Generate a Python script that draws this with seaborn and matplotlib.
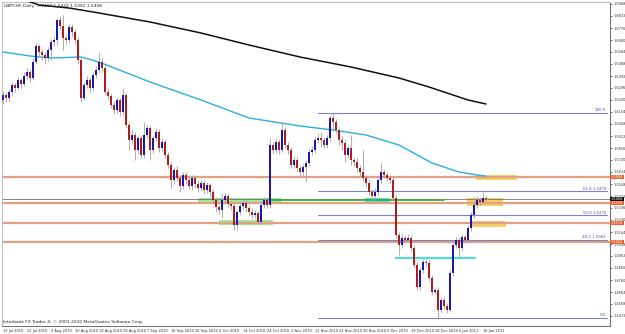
import matplotlib
matplotlib.use("Agg")
import matplotlib.pyplot as plt
import seaborn as sns
import pandas as pd
import numpy as np

# ---------------- data ----------------
symbol_title = "GBPCHF,Daily"
date_labels = ["13 Jul 2010", "22 Jul 2010", "2 Aug 2010", "10 Aug 2010", "19 Aug 2010",
               "29 Aug 2010", "7 Sep 2010", "16 Sep 2010", "26 Sep 2010", "5 Oct 2010",
               "14 Oct 2010", "24 Oct 2010", "2 Nov 2010", "11 Nov 2010", "21 Nov 2010",
               "30 Nov 2010", "9 Dec 2010", "19 Dec 2010", "28 Dec 2010", "6 Jan 2011",
               "16 Jan 2011"]
date_label_bars = [0, 8, 16, 24, 32, 40, 48, 56, 64, 72, 80, 88, 96, 104, 112, 120,
                   128, 136, 144, 152, 160]

closes = [1.6240, 1.6216, 1.6264, 1.6320, 1.6296, 1.6360, 1.6328, 1.6392, 1.6424, 1.6376,
          1.6504, 1.6632, 1.6584, 1.6560, 1.6536, 1.6600, 1.6664, 1.6680, 1.6840, 1.6792,
          1.6696, 1.6680, 1.6784, 1.6744, 1.6680, 1.6520, 1.6216, 1.6320, 1.6360, 1.6296,
          1.6400, 1.6440, 1.6504, 1.6456, 1.6264, 1.6232, 1.6160, 1.6120, 1.6200, 1.6104,
          1.6240, 1.6000, 1.5880, 1.5920, 1.5800, 1.5896, 1.5760, 1.5920, 1.5976, 1.5800,
          1.5896, 1.5944, 1.5816, 1.5864, 1.5760, 1.5680, 1.5560, 1.5640, 1.5576, 1.5512,
          1.5600, 1.5560, 1.5512, 1.5576, 1.5528, 1.5496, 1.5536, 1.5480, 1.5520, 1.5464,
          1.5400, 1.5344, 1.5320, 1.5400, 1.5432, 1.5368, 1.5352, 1.5200, 1.5304, 1.5352,
          1.5376, 1.5336, 1.5304, 1.5280, 1.5296, 1.5224, 1.5360, 1.5400, 1.5360, 1.5840,
          1.5800, 1.5864, 1.5800, 1.5960, 1.5840, 1.5800, 1.5680, 1.5720, 1.5656, 1.5624,
          1.5664, 1.5696, 1.5784, 1.5800, 1.5880, 1.5896, 1.5880, 1.5840, 1.5896, 1.6056,
          1.6024, 1.5960, 1.5880, 1.5856, 1.5760, 1.5816, 1.5720, 1.5704, 1.5656, 1.5624,
          1.5576, 1.5536, 1.5464, 1.5432, 1.5464, 1.5560, 1.5624, 1.5600, 1.5576, 1.5560,
          1.5416, 1.5120, 1.5040, 1.5096, 1.5080, 1.5096, 1.5016, 1.4880, 1.4704, 1.4840,
          1.4904, 1.4896, 1.4776, 1.4664, 1.4680, 1.4520, 1.4600, 1.4552, 1.4520, 1.4816,
          1.5040, 1.5080, 1.5016, 1.5104, 1.5080, 1.5176, 1.5280, 1.5360, 1.5400, 1.5384,
          1.5416, 1.5408]

opens = [1.6200, 1.6240, 1.6216, 1.6264, 1.6320, 1.6296, 1.6360, 1.6328, 1.6392, 1.6424,
         1.6376, 1.6504, 1.6632, 1.6584, 1.6560, 1.6536, 1.6600, 1.6664, 1.6680, 1.6840,
         1.6792, 1.6696, 1.6680, 1.6784, 1.6744, 1.6680, 1.6520, 1.6216, 1.6320, 1.6360,
         1.6296, 1.6400, 1.6440, 1.6504, 1.6456, 1.6264, 1.6232, 1.6160, 1.6120, 1.6200,
         1.6104, 1.6240, 1.6000, 1.5880, 1.5920, 1.5800, 1.5896, 1.5760, 1.5920, 1.5976,
         1.5800, 1.5896, 1.5944, 1.5816, 1.5864, 1.5760, 1.5680, 1.5560, 1.5640, 1.5576,
         1.5512, 1.5600, 1.5560, 1.5512, 1.5576, 1.5528, 1.5496, 1.5536, 1.5480, 1.5520,
         1.5464, 1.5400, 1.5344, 1.5320, 1.5400, 1.5432, 1.5368, 1.5352, 1.5200, 1.5304,
         1.5352, 1.5376, 1.5336, 1.5304, 1.5280, 1.5296, 1.5224, 1.5360, 1.5400, 1.5360,
         1.5840, 1.5800, 1.5864, 1.5800, 1.5960, 1.5840, 1.5800, 1.5680, 1.5720, 1.5656,
         1.5624, 1.5664, 1.5696, 1.5784, 1.5800, 1.5880, 1.5896, 1.5880, 1.5840, 1.5896,
         1.6056, 1.6024, 1.5960, 1.5880, 1.5856, 1.5760, 1.5816, 1.5720, 1.5704, 1.5656,
         1.5624, 1.5576, 1.5536, 1.5464, 1.5432, 1.5464, 1.5560, 1.5624, 1.5600, 1.5576,
         1.5560, 1.5416, 1.5120, 1.5040, 1.5096, 1.5080, 1.5096, 1.5016, 1.4880, 1.4704,
         1.4840, 1.4904, 1.4896, 1.4776, 1.4664, 1.4680, 1.4520, 1.4600, 1.4552, 1.4520,
         1.4816, 1.5040, 1.5080, 1.5016, 1.5104, 1.5080, 1.5176, 1.5280, 1.5360, 1.5400,
         1.5384, 1.5416]

highs = [1.6272, 1.6264, 1.6288, 1.6344, 1.6336, 1.6384, 1.6376, 1.6424, 1.6456, 1.6440,
         1.6536, 1.6656, 1.6648, 1.6608, 1.6584, 1.6624, 1.6688, 1.6712, 1.6856, 1.6872,
         1.6880, 1.6720, 1.6808, 1.6808, 1.6768, 1.6704, 1.6536, 1.6344, 1.6392, 1.6384,
         1.6424, 1.6472, 1.6584, 1.6536, 1.6480, 1.6296, 1.6256, 1.6192, 1.6224, 1.6216,
         1.6296, 1.6256, 1.6024, 1.5960, 1.5944, 1.5920, 1.5920, 1.6024, 1.6008, 1.6000,
         1.5920, 1.5976, 1.5968, 1.5896, 1.5888, 1.5784, 1.5704, 1.5664, 1.5672, 1.5600,
         1.5624, 1.5624, 1.5584, 1.5600, 1.5600, 1.5560, 1.5560, 1.5560, 1.5544, 1.5536,
         1.5488, 1.5424, 1.5368, 1.5456, 1.5464, 1.5456, 1.5392, 1.5376, 1.5320, 1.5384,
         1.5408, 1.5400, 1.5360, 1.5336, 1.5320, 1.5320, 1.5384, 1.5424, 1.5424, 1.5896,
         1.5864, 1.5888, 1.5888, 1.6024, 1.5984, 1.5864, 1.5824, 1.5752, 1.5744, 1.5680,
         1.5688, 1.5720, 1.5808, 1.5832, 1.5912, 1.5936, 1.5944, 1.5904, 1.5920, 1.6080,
         1.6096, 1.6048, 1.5984, 1.5912, 1.5880, 1.5840, 1.5920, 1.5744, 1.5736, 1.5680,
         1.5800, 1.5600, 1.5560, 1.5488, 1.5496, 1.5584, 1.5696, 1.5648, 1.5624, 1.5600,
         1.5584, 1.5440, 1.5144, 1.5128, 1.5120, 1.5128, 1.5120, 1.5040, 1.4904, 1.4864,
         1.4928, 1.4928, 1.4920, 1.4800, 1.4704, 1.4704, 1.4624, 1.4624, 1.4576, 1.4840,
         1.5064, 1.5104, 1.5104, 1.5128, 1.5128, 1.5200, 1.5304, 1.5424, 1.5432, 1.5424,
         1.5464, 1.5432]

lows = [1.6168, 1.6184, 1.6192, 1.6240, 1.6264, 1.6280, 1.6296, 1.6312, 1.6368, 1.6344,
        1.6360, 1.6488, 1.6552, 1.6520, 1.6488, 1.6512, 1.6520, 1.6632, 1.6640, 1.6760,
        1.6600, 1.6648, 1.6664, 1.6712, 1.6648, 1.6488, 1.6184, 1.6200, 1.6296, 1.6264,
        1.6280, 1.6376, 1.6416, 1.6424, 1.6240, 1.6200, 1.6136, 1.6088, 1.6096, 1.6072,
        1.6080, 1.5976, 1.5800, 1.5848, 1.5720, 1.5776, 1.5736, 1.5736, 1.5896, 1.5720,
        1.5776, 1.5872, 1.5784, 1.5792, 1.5736, 1.5656, 1.5496, 1.5528, 1.5552, 1.5464,
        1.5488, 1.5528, 1.5488, 1.5480, 1.5496, 1.5464, 1.5472, 1.5448, 1.5456, 1.5424,
        1.5368, 1.5304, 1.5288, 1.5256, 1.5368, 1.5336, 1.5320, 1.5160, 1.5160, 1.5280,
        1.5320, 1.5304, 1.5272, 1.5256, 1.5256, 1.5200, 1.5208, 1.5336, 1.5336, 1.5336,
        1.5768, 1.5776, 1.5768, 1.5784, 1.5816, 1.5768, 1.5656, 1.5656, 1.5624, 1.5592,
        1.5592, 1.5544, 1.5672, 1.5760, 1.5776, 1.5856, 1.5824, 1.5816, 1.5816, 1.5872,
        1.5960, 1.5936, 1.5840, 1.5800, 1.5704, 1.5736, 1.5680, 1.5672, 1.5624, 1.5592,
        1.5552, 1.5504, 1.5440, 1.5400, 1.5400, 1.5440, 1.5536, 1.5576, 1.5552, 1.5536,
        1.5400, 1.5096, 1.4960, 1.5016, 1.5056, 1.5064, 1.4992, 1.4856, 1.4680, 1.4680,
        1.4816, 1.4872, 1.4752, 1.4640, 1.4648, 1.4456, 1.4504, 1.4528, 1.4496, 1.4504,
        1.4792, 1.5016, 1.4936, 1.4992, 1.5056, 1.5056, 1.5152, 1.5256, 1.5336, 1.5360,
        1.5368, 1.5392]

# long moving averages, sampled at bar positions
ma_black_bars = [0, 12, 22, 32, 49, 66, 82, 99, 116, 132, 142, 149, 155, 161]
ma_black_vals = [1.7060, 1.6960, 1.6936, 1.6896, 1.6824, 1.6736, 1.6640, 1.6544, 1.6464,
                 1.6376, 1.6304, 1.6248, 1.6200, 1.6168]
ma_cyan_bars = [0, 9, 16, 26, 32, 49, 66, 82, 99, 110, 121, 132, 143, 152, 158, 161]
ma_cyan_vals = [1.6584, 1.6552, 1.6536, 1.6544, 1.6504, 1.6344, 1.6200, 1.6056, 1.5992,
                1.5960, 1.5920, 1.5840, 1.5696, 1.5624, 1.5600, 1.5592]

# horizontal levels (full width)
orange_levels = [1.5584, 1.5376, 1.5216, 1.5064]
green_line = {"start": 89, "end": 147, "price": 1.5400}
fib_high = 1.6096
fib_low = 1.4456
fib_start_bar = 105
fib_levels = [100.0, 61.8, 50.0, 38.2, 0.0]

# rectangles: (bar_from, bar_to, price_low, price_high, colour)
zones_bar_from = [65, 72, 120.7, 130.7, 157.7, 154.7, 156]
zones_bar_to = [93, 90, 129, 157.7, 171.3, 166.7, 167.7]
zones_low = [1.5368, 1.5200, 1.5368, 1.4928, 1.5560, 1.5352, 1.5184]
zones_high = [1.5416, 1.5240, 1.5416, 1.4944, 1.5600, 1.5416, 1.5232]
zones_color = ["#9fe79a", "#9fe79a", "#4fe3e3", "#3fe0e6", "#f7cf63", "#f7cf63", "#f7cf63"]

price_ticks = [1.6968, 1.6872, 1.6776, 1.6680, 1.6584, 1.6488, 1.6392, 1.6296, 1.6200,
               1.6104, 1.6008, 1.5912, 1.5816, 1.5720, 1.5624, 1.5528, 1.5432, 1.5336,
               1.5240, 1.5144, 1.5048, 1.4952, 1.4856, 1.4760, 1.4664, 1.4568, 1.4472]

# ---------------- figure ----------------
sns.set_theme(style="white")
plt.rcParams["font.family"] = ["DejaVu Sans"]

W, H = 625, 334
fig = plt.figure(figsize=(W / 100, H / 100), dpi=100)
ax = fig.add_axes([2 / W, 1 - 326 / H, (610 - 2) / W, (326 - 2) / H])
ax.set_facecolor("white")

ymax, ymin = 1.6984, 1.4392
ax.set_ylim(ymin, ymax)
ax.set_xlim(-0.33, 202.33)

# rectangles (background)
for x0, x1, lo, hi, c in zip(zones_bar_from, zones_bar_to, zones_low, zones_high, zones_color):
    ax.add_patch(plt.Rectangle((x0, lo), x1 - x0, hi - lo, facecolor=c, edgecolor="none", zorder=1))

# full-width levels
for lv in orange_levels:
    ax.axhline(lv, color="#e2a183", lw=1.6, zorder=2)
# bid line
ax.axhline(closes[-1], color="#707070", lw=0.6, zorder=2)

# green trend segment
ax.plot([green_line["start"], green_line["end"]], [green_line["price"]] * 2,
        color="#3fae3f", lw=1.3, zorder=3)

# fibonacci
for lv in fib_levels:
    p = fib_low + (fib_high - fib_low) * lv / 100
    ax.plot([fib_start_bar, 201.3], [p, p], color="#8080c8", lw=0.8, zorder=3)
    txt = f"{lv:.1f}" if lv in (100.0, 0.0) else f"{lv:.1f} {p:.4f}"
    ax.text(201.0, p + 0.0006, txt, fontsize=2.8, color="#5050b0", ha="right", va="bottom", zorder=4)

# moving averages via seaborn
df_black = pd.DataFrame({"bar": ma_black_bars, "price": ma_black_vals})
df_cyan = pd.DataFrame({"bar": ma_cyan_bars, "price": ma_cyan_vals})
sns.lineplot(data=df_cyan, x="bar", y="price", ax=ax, color="#2ab0dc", lw=1.0, zorder=4)
sns.lineplot(data=df_black, x="bar", y="price", ax=ax, color="#111111", lw=1.1, zorder=4)

# candles
bars = np.arange(len(closes))
o = np.array(opens); c = np.array(closes); h = np.array(highs); l = np.array(lows)
ax.vlines(bars, l, h, color="#a8a8a8", lw=0.65, zorder=5)
up = c >= o
body_lo = np.minimum(o, c)
body_h = np.maximum(np.abs(c - o), 0.0004)
ax.bar(bars[up], body_h[up], bottom=body_lo[up], width=0.6, color="#1818b0", zorder=6, linewidth=0)
ax.bar(bars[~up], body_h[~up], bottom=body_lo[~up], width=0.6, color="#b01c1c", zorder=6, linewidth=0)

ax.set_xlabel(""); ax.set_ylabel("")

# axes styling
ax.yaxis.tick_right()
ax.set_yticks(price_ticks)
ax.set_yticklabels([f"{v:.4f}" for v in price_ticks], fontsize=2.5, color="#222222")
ax.tick_params(axis="y", length=1.5, width=0.5, pad=0.8, colors="#333333", labelsize=2.5)
ax.set_xticks(date_label_bars)
ax.set_xticklabels(date_labels, fontsize=2.6, ha="left", color="#222222")
ax.tick_params(axis="x", length=2, width=0.5, pad=0.5, colors="#333333", labelsize=2.6)
for lab in ax.get_xticklabels():
    lab.set_horizontalalignment("left")
for s in ["left", "top"]:
    ax.spines[s].set_color("#c0c0c0"); ax.spines[s].set_linewidth(0.8)
for s in ["right", "bottom"]:
    ax.spines[s].set_color("#555555"); ax.spines[s].set_linewidth(0.6)

# right-edge price labels for levels
def edge_label(price, fc, tc="white"):
    ax.text(1.0015, price, f"{price:.4f}", transform=ax.get_yaxis_transform(), fontsize=2.5,
            color=tc, ha="left", va="center", zorder=10, clip_on=False,
            bbox=dict(boxstyle="square,pad=0.12", facecolor=fc, edgecolor="none"))

for lv in orange_levels:
    edge_label(lv, "#e8602a")
edge_label(closes[-1], "#111111")

# texts
ax.text(0.003, 0.995, f"{symbol_title}  {opens[-1]:.4f} {highs[-1]:.4f} {lows[-1]:.4f} {closes[-1]:.4f}",
        transform=ax.transAxes, fontsize=3.2, color="#222222", ha="left", va="top", zorder=11)
ax.text(0.001, 0.005, "Interbank FX Trader 4, © 2001-2010 MetaQuotes Software Corp.",
        transform=ax.transAxes, fontsize=3.2, color="#222222", ha="left", va="bottom", zorder=11)

fig.savefig("out.png", dpi=100, facecolor="white")
